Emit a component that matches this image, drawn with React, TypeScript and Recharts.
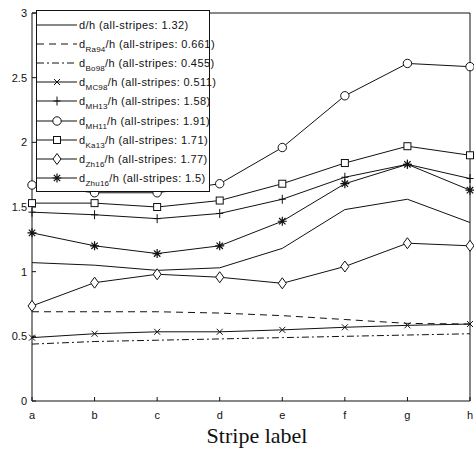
import { LineChart, Line, XAxis, YAxis, Legend } from "recharts";

// stripe labels along x
const stripes = ["a", "b", "c", "d", "e", "f", "g", "h"];
const yTicks = [0, 0.5, 1, 1.5, 2, 2.5, 3];

// ratios, one value per stripe
const dh = [1.07, 1.05, 1.01, 1.03, 1.18, 1.48, 1.56, 1.38];
const ra94 = [0.69, 0.69, 0.69, 0.68, 0.66, 0.63, 0.6, 0.595];
const bo98 = [0.44, 0.46, 0.47, 0.48, 0.49, 0.5, 0.51, 0.52];
const mc98 = [0.49, 0.52, 0.535, 0.535, 0.55, 0.57, 0.585, 0.595];
const mh13 = [1.46, 1.44, 1.41, 1.45, 1.56, 1.73, 1.83, 1.72];
const mh11 = [1.67, 1.61, 1.61, 1.68, 1.96, 2.36, 2.61, 2.585];
const ka13 = [1.53, 1.53, 1.5, 1.55, 1.68, 1.84, 1.97, 1.9];
const zh16 = [0.735, 0.915, 0.98, 0.957, 0.91, 1.04, 1.22, 1.2];
const zhu16 = [1.3, 1.2, 1.14, 1.2, 1.39, 1.68, 1.83, 1.63];

type Shape = "none" | "x" | "plus" | "circle" | "square" | "diamond" | "star";

type SeriesDef = {
  key: string;
  sub: string;
  overall: string;
  values: number[];
  dash?: string;
  shape: Shape;
};

const SERIES: SeriesDef[] = [
  { key: "dh", sub: "", overall: "1.32", values: dh, shape: "none" },
  { key: "ra94", sub: "Ra94", overall: "0.661", values: ra94, dash: "7 5", shape: "none" },
  { key: "bo98", sub: "Bo98", overall: "0.455", values: bo98, dash: "7 3 2 3", shape: "none" },
  { key: "mc98", sub: "MC98", overall: "0.511", values: mc98, shape: "x" },
  { key: "mh13", sub: "MH13", overall: "1.58", values: mh13, shape: "plus" },
  { key: "mh11", sub: "MH11", overall: "1.91", values: mh11, shape: "circle" },
  { key: "ka13", sub: "Ka13", overall: "1.71", values: ka13, shape: "square" },
  { key: "zh16", sub: "Zh16", overall: "1.77", values: zh16, shape: "diamond" },
  { key: "zhu16", sub: "Zhu16", overall: "1.5", values: zhu16, shape: "star" },
];

const INK = "#111";
const SANS = "'Liberation Sans', Arial, sans-serif";

const data = stripes.map((label, i) => {
  const row: Record<string, string | number> = { label };
  for (const s of SERIES) row[s.key] = s.values[i];
  return row;
});

function Marker({ shape, cx, cy }: { shape: Shape; cx: number; cy: number }) {
  const common = { stroke: INK, strokeWidth: 1, fill: "#fff" };
  switch (shape) {
    case "circle":
      return <circle cx={cx} cy={cy} r={4.2} {...common} />;
    case "square":
      return <rect x={cx - 3.5} y={cy - 3.5} width={7} height={7} {...common} />;
    case "diamond":
      return (
        <path
          d={`M${cx},${cy - 5.5}L${cx + 4},${cy}L${cx},${cy + 5.5}L${cx - 4},${cy}Z`}
          {...common}
        />
      );
    case "x":
      return (
        <path
          d={`M${cx - 3},${cy - 3}L${cx + 3},${cy + 3}M${cx - 3},${cy + 3}L${cx + 3},${cy - 3}`}
          stroke={INK}
          strokeWidth={1}
        />
      );
    case "plus":
      return (
        <path
          d={`M${cx},${cy - 4.5}L${cx},${cy + 4.5}M${cx - 3.5},${cy}L${cx + 3.5},${cy}`}
          stroke={INK}
          strokeWidth={1}
        />
      );
    case "star":
      return (
        <path
          d={`M${cx},${cy - 4.5}L${cx},${cy + 4.5}M${cx - 4.5},${cy}L${cx + 4.5},${cy}M${cx - 3.2},${cy - 3.2}L${cx + 3.2},${cy + 3.2}M${cx - 3.2},${cy + 3.2}L${cx + 3.2},${cy - 3.2}`}
          stroke={INK}
          strokeWidth={1.2}
        />
      );
    default:
      return null;
  }
}

function LegendBox() {
  return (
    <div
      style={{
        border: `1px solid ${INK}`,
        background: "#fff",
        padding: "4px 0 3px 0",
        fontFamily: SANS,
        fontSize: 11,
        letterSpacing: 0.4,
        color: INK,
        boxSizing: "border-box",
      }}
    >
      {SERIES.map((s) => (
        <div
          key={s.key}
          style={{ display: "flex", alignItems: "center", height: 19.2, whiteSpace: "nowrap" }}
        >
          <svg width={41} height={12} style={{ flex: "none" }}>
            <line x1={0} y1={6} x2={40} y2={6} stroke={INK} strokeWidth={1} strokeDasharray={s.dash} />
            <Marker shape={s.shape} cx={20} cy={6} />
          </svg>
          <span style={{ marginLeft: 1 }}>
            d
            {s.sub && (
              <sub style={{ fontSize: 8, verticalAlign: "-4px", lineHeight: 0, letterSpacing: 0.2 }}>
                {s.sub}
              </sub>
            )}
            /h (all-stripes: {s.overall})
          </span>
        </div>
      ))}
    </div>
  );
}

const tickStyle = { fontSize: 11, fontFamily: SANS, fill: INK };

export default function App() {
  return (
    <div style={{ position: "absolute", left: 0, top: 0, background: "#fff" }}>
      <LineChart width={474} height={454} data={data} margin={{ top: 12, right: 3, bottom: 0, left: 0 }}>
        <XAxis
          dataKey="label"
          scale="point"
          padding={{ left: 0, right: 0 }}
          height={53}
          tick={tickStyle}
          tickSize={-4}
          tickMargin={14}
          stroke={INK}
          label={{
            value: "Stripe label",
            position: "insideBottom",
            offset: 11,
            dx: 6,
            style: { fontFamily: "'Liberation Serif', 'Times New Roman', serif", fontSize: 22, fill: INK },
          }}
        />
        <XAxis
          xAxisId="top"
          orientation="top"
          dataKey="label"
          scale="point"
          padding={{ left: 0, right: 0 }}
          height={1}
          tick={false}
          tickSize={-4}
          stroke={INK}
        />
        <YAxis
          domain={[0, 3]}
          ticks={yTicks}
          width={32}
          tick={tickStyle}
          tickSize={-4}
          tickMargin={9}
          stroke={INK}
          allowDataOverflow
        />
        <YAxis
          yAxisId="right"
          orientation="right"
          domain={[0, 3]}
          ticks={yTicks}
          width={1}
          tick={false}
          tickSize={-4}
          stroke={INK}
        />
        <Legend
          layout="vertical"
          align="center"
          verticalAlign="middle"
          wrapperStyle={{ left: 36, top: 10, width: 174 }}
          content={() => <LegendBox />}
        />
        {/* invisible series that ties the top and right frame axes to the data */}
        <Line
          xAxisId="top"
          yAxisId="right"
          dataKey="dh"
          stroke="none"
          dot={false}
          activeDot={false}
          legendType="none"
          isAnimationActive={false}
        />
        {SERIES.map((s) => (
          <Line
            key={s.key}
            dataKey={s.key}
            type="linear"
            stroke={INK}
            strokeWidth={1}
            strokeDasharray={s.dash}
            isAnimationActive={false}
            dot={
              s.shape === "none"
                ? false
                : (p: any) => <Marker key={`${s.key}-${p.index}`} shape={s.shape} cx={p.cx} cy={p.cy} />
            }
            activeDot={false}
          />
        ))}
      </LineChart>
    </div>
  );
}
